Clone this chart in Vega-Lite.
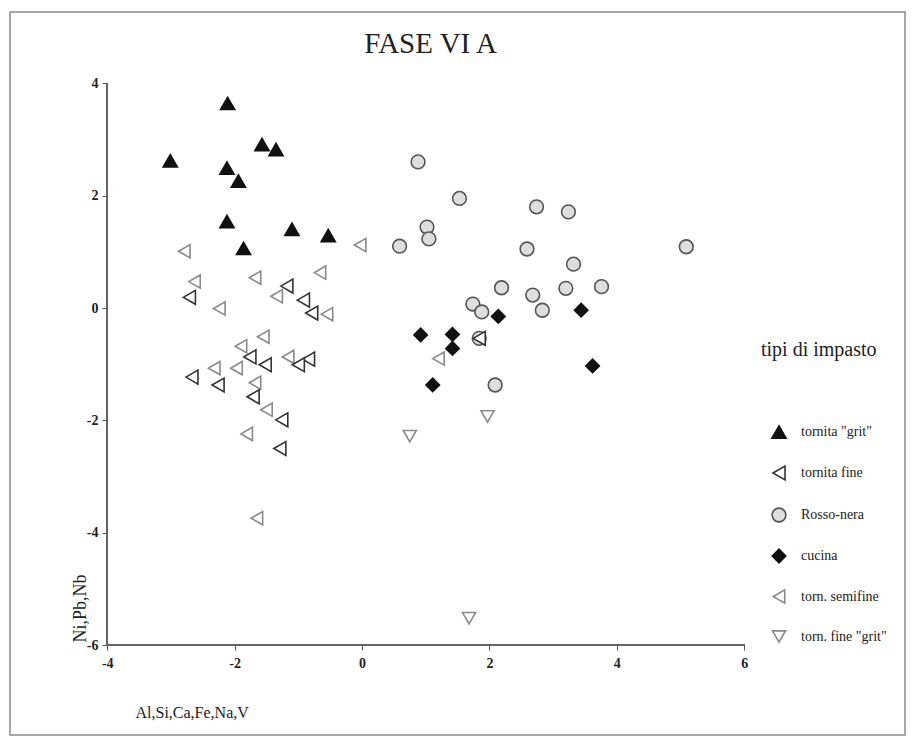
{
  "$schema": "https://vega.github.io/schema/vega-lite/v6.json",
  "width": 895,
  "height": 723,
  "autosize": {"type": "none"},
  "padding": {"left": 10, "top": 12, "right": 8, "bottom": 4},
  "background": "white",
  "config": {
    "view": {"stroke": "#8a8a8a", "strokeWidth": 1.5},
    "font": "Liberation Serif",
    "legend": {
      "orient": "none",
      "legendX": 751,
      "legendY": 328,
      "padding": 0,
      "titleFont": "Liberation Serif",
      "titleFontSize": 20,
      "titleFontWeight": "normal",
      "titleColor": "#222",
      "titlePadding": 64,
      "labelFont": "Liberation Serif",
      "labelFontSize": 14,
      "labelColor": "#222",
      "rowPadding": 20,
      "symbolOffset": 10,
      "labelOffset": 14,
      "symbolStrokeWidth": 1.6
    }
  },
  "title": {
    "text": "FASE VI A",
    "font": "Liberation Serif",
    "fontSize": 29,
    "fontWeight": "normal",
    "color": "#222",
    "anchor": "middle",
    "frame": "group",
    "offset": 0,
    "baseline": "alphabetic",
    "dy": 70,
    "dx": -27
  },
  "data": {
    "values": [
      {"x": -2.11, "y": 3.64, "t": "tornita \"grit\""},
      {"x": -1.57, "y": 2.91, "t": "tornita \"grit\""},
      {"x": -1.35, "y": 2.82, "t": "tornita \"grit\""},
      {"x": -3.01, "y": 2.62, "t": "tornita \"grit\""},
      {"x": -2.12, "y": 2.49, "t": "tornita \"grit\""},
      {"x": -1.94, "y": 2.26, "t": "tornita \"grit\""},
      {"x": -2.12, "y": 1.54, "t": "tornita \"grit\""},
      {"x": -1.10, "y": 1.40, "t": "tornita \"grit\""},
      {"x": -0.53, "y": 1.29, "t": "tornita \"grit\""},
      {"x": -1.86, "y": 1.06, "t": "tornita \"grit\""},
      {"x": -2.79, "y": 1.01, "t": "torn. semifine"},
      {"x": -0.03, "y": 1.12, "t": "torn. semifine"},
      {"x": -2.63, "y": 0.47, "t": "torn. semifine"},
      {"x": -1.68, "y": 0.54, "t": "torn. semifine"},
      {"x": -0.66, "y": 0.63, "t": "torn. semifine"},
      {"x": -2.71, "y": 0.19, "t": "tornita fine"},
      {"x": -1.18, "y": 0.39, "t": "tornita fine"},
      {"x": -1.34, "y": 0.21, "t": "torn. semifine"},
      {"x": -0.92, "y": 0.14, "t": "tornita fine"},
      {"x": -2.24, "y": -0.01, "t": "torn. semifine"},
      {"x": -0.79, "y": -0.09, "t": "tornita fine"},
      {"x": -0.55, "y": -0.11, "t": "torn. semifine"},
      {"x": -1.55, "y": -0.51, "t": "torn. semifine"},
      {"x": -1.90, "y": -0.68, "t": "torn. semifine"},
      {"x": -1.76, "y": -0.87, "t": "tornita fine"},
      {"x": -1.52, "y": -1.01, "t": "tornita fine"},
      {"x": -1.16, "y": -0.87, "t": "torn. semifine"},
      {"x": -0.84, "y": -0.91, "t": "tornita fine"},
      {"x": -1.00, "y": -1.01, "t": "tornita fine"},
      {"x": -2.32, "y": -1.07, "t": "torn. semifine"},
      {"x": -1.97, "y": -1.07, "t": "torn. semifine"},
      {"x": -2.67, "y": -1.23, "t": "tornita fine"},
      {"x": -2.26, "y": -1.37, "t": "tornita fine"},
      {"x": -1.68, "y": -1.33, "t": "torn. semifine"},
      {"x": -1.71, "y": -1.58, "t": "tornita fine"},
      {"x": -1.50, "y": -1.81, "t": "torn. semifine"},
      {"x": -1.26, "y": -1.99, "t": "tornita fine"},
      {"x": -1.81, "y": -2.24, "t": "torn. semifine"},
      {"x": -1.29, "y": -2.50, "t": "tornita fine"},
      {"x": -1.65, "y": -3.74, "t": "torn. semifine"},
      {"x": 1.20, "y": -0.90, "t": "torn. semifine"},
      {"x": 0.88, "y": 2.60, "t": "Rosso-nera"},
      {"x": 1.53, "y": 1.95, "t": "Rosso-nera"},
      {"x": 2.74, "y": 1.80, "t": "Rosso-nera"},
      {"x": 3.24, "y": 1.71, "t": "Rosso-nera"},
      {"x": 1.02, "y": 1.44, "t": "Rosso-nera"},
      {"x": 1.05, "y": 1.23, "t": "Rosso-nera"},
      {"x": 0.59, "y": 1.10, "t": "Rosso-nera"},
      {"x": 2.59, "y": 1.05, "t": "Rosso-nera"},
      {"x": 5.09, "y": 1.09, "t": "Rosso-nera"},
      {"x": 3.32, "y": 0.78, "t": "Rosso-nera"},
      {"x": 2.19, "y": 0.36, "t": "Rosso-nera"},
      {"x": 2.68, "y": 0.23, "t": "Rosso-nera"},
      {"x": 3.20, "y": 0.35, "t": "Rosso-nera"},
      {"x": 3.76, "y": 0.38, "t": "Rosso-nera"},
      {"x": 1.74, "y": 0.07, "t": "Rosso-nera"},
      {"x": 1.88, "y": -0.07, "t": "Rosso-nera"},
      {"x": 2.83, "y": -0.04, "t": "Rosso-nera"},
      {"x": 1.84, "y": -0.54, "t": "Rosso-nera"},
      {"x": 2.09, "y": -1.37, "t": "Rosso-nera"},
      {"x": 1.84, "y": -0.54, "t": "tornita fine"},
      {"x": 2.14, "y": -0.15, "t": "cucina"},
      {"x": 3.44, "y": -0.04, "t": "cucina"},
      {"x": 0.92, "y": -0.48, "t": "cucina"},
      {"x": 1.42, "y": -0.47, "t": "cucina"},
      {"x": 1.42, "y": -0.72, "t": "cucina"},
      {"x": 1.11, "y": -1.37, "t": "cucina"},
      {"x": 3.62, "y": -1.03, "t": "cucina"},
      {"x": 0.75, "y": -2.28, "t": "torn. fine \"grit\""},
      {"x": 1.97, "y": -1.93, "t": "torn. fine \"grit\""},
      {"x": 1.68, "y": -5.52, "t": "torn. fine \"grit\""}
    ]
  },
  "layer": [
    {
      "mark": {"type": "point", "opacity": 1, "strokeWidth": 1.6},
      "encoding": {
        "x": {
          "field": "x", "type": "quantitative",
          "scale": {"domain": [-5.526, 8.524], "nice": false, "zero": false},
          "axis": {
            "values": [-4, -2, 0, 2, 4, 6], "offset": -90, "domain": false, "grid": false,
            "labelExpr": "'' + datum.value",
            "tickSize": 5, "tickColor": "#555", "labelFont": "Liberation Serif", "labelFontSize": 14,
            "labelFontWeight": "bold", "labelColor": "#222", "labelPadding": 6, "labelFlush": false,
            "title": "Al,Si,Ca,Fe,Na,V", "titleFont": "Liberation Serif", "titleFontSize": 16,
            "titleFontWeight": "normal", "titleColor": "#222", "titleX": 125, "titleY": 67,
            "titleAlign": "left", "titleBaseline": "middle"
          }
        },
        "y": {
          "field": "y", "type": "quantitative",
          "scale": {"domain": [-7.598, 5.267], "nice": false, "zero": false},
          "axis": {
            "values": [-6, -4, -2, 0, 2, 4], "offset": -97, "domain": false, "grid": false,
            "labelExpr": "'' + datum.value",
            "tickSize": 5, "tickColor": "#555", "labelFont": "Liberation Serif", "labelFontSize": 14,
            "labelFontWeight": "bold", "labelColor": "#222", "labelPadding": 4, "labelFlush": false,
            "title": "Ni,Pb,Nb", "titleFont": "Liberation Serif", "titleFontSize": 18,
            "titleFontWeight": "normal", "titleColor": "#222", "titleX": -27, "titleY": 596,
            "titleAlign": "center", "titleBaseline": "middle"
          }
        },
        "shape": {
          "field": "t", "type": "nominal", "title": "tipi di impasto",
          "scale": {
            "domain": ["tornita \"grit\"", "tornita fine", "Rosso-nera", "cucina", "torn. semifine", "torn. fine \"grit\""],
            "range": ["triangle-up", "triangle-left", "circle", "diamond", "triangle-left", "triangle-down"]
          }
        },
        "fill": {
          "field": "t", "type": "nominal", "title": "tipi di impasto",
          "scale": {
            "domain": ["tornita \"grit\"", "tornita fine", "Rosso-nera", "cucina", "torn. semifine", "torn. fine \"grit\""],
            "range": ["#111111", "#ffffff", "#dedede", "#111111", "#ffffff", "#ffffff"]
          }
        },
        "stroke": {
          "field": "t", "type": "nominal", "title": "tipi di impasto",
          "scale": {
            "domain": ["tornita \"grit\"", "tornita fine", "Rosso-nera", "cucina", "torn. semifine", "torn. fine \"grit\""],
            "range": ["#111111", "#333333", "#555555", "#111111", "#8a8a8a", "#8a8a8a"]
          }
        },
        "size": {
          "field": "t", "type": "nominal", "title": "tipi di impasto",
          "scale": {
            "domain": ["tornita \"grit\"", "tornita fine", "Rosso-nera", "cucina", "torn. semifine", "torn. fine \"grit\""],
            "range": [200, 170, 260, 210, 170, 170]
          }
        }
      }
    },
    {
      "mark": {"type": "rule", "color": "#666666", "strokeWidth": 1.3},
      "encoding": {"x": {"datum": -4}, "x2": {"datum": 6}, "y": {"datum": -6}}
    },
    {
      "mark": {"type": "rule", "color": "#666666", "strokeWidth": 1.3},
      "encoding": {"x": {"datum": -4}, "y": {"datum": -6}, "y2": {"datum": 4}}
    }
  ]
}
